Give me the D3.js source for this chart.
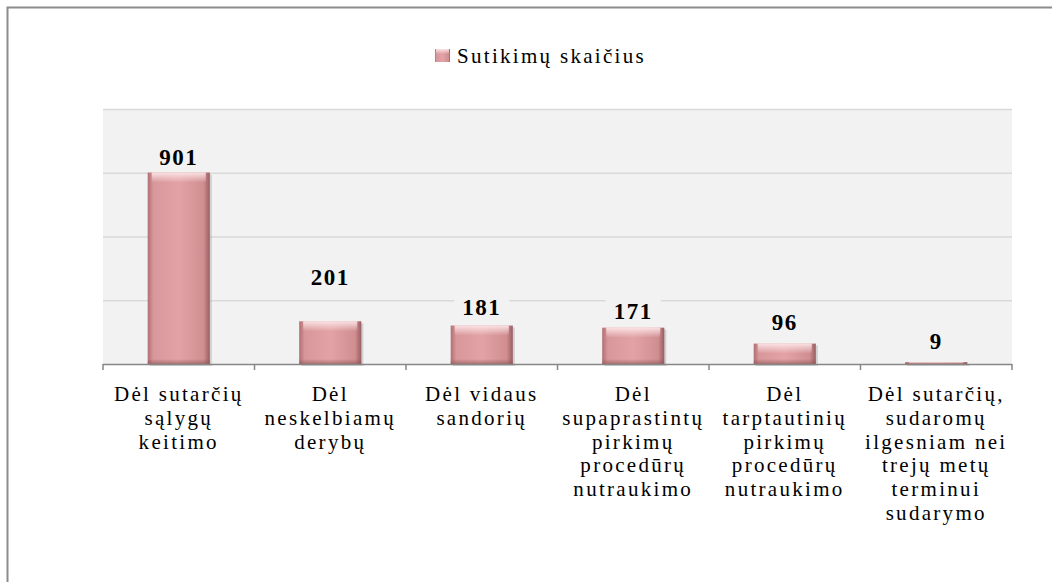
<!DOCTYPE html>
<html>
<head>
<meta charset="utf-8">
<script src="https://d3js.org/d3.v7.min.js"></script>
<style>
  body { margin: 0; background: #fff; }
  text { font-family: "Liberation Serif", "Times New Roman", serif; }
</style>
</head>
<body>
<div id="chart"></div>
<script>
// data
var categories = ["c1", "c2", "c3", "c4", "c5", "c6"];
var labelLines = [
  ["Dėl sutarčių", "sąlygų", "keitimo"],
  ["Dėl", "neskelbiamų", "derybų"],
  ["Dėl vidaus", "sandorių"],
  ["Dėl", "supaprastintų", "pirkimų", "procedūrų", "nutraukimo"],
  ["Dėl", "tarptautinių", "pirkimų", "procedūrų", "nutraukimo"],
  ["Dėl sutarčių,", "sudaromų", "ilgesniam nei", "trejų metų", "terminui", "sudarymo"]
];
var values = [901, 201, 181, 171, 96, 9];
var gridTicks = [0, 300, 600, 900, 1200];
var seriesName = "Sutikimų skaičius";

// the value labels were nudged by hand in the original, px above bar top
var labelGap = [8, 36, 11, 9, 14, 13];

var W = 1052, H = 582;
var plot = {left: 103, right: 1012, top: 109, bottom: 364};

var svg = d3.select("#chart").append("svg")
  .attr("width", W).attr("height", H);

var defs = svg.append("defs");
var g1 = defs.append("linearGradient").attr("id", "barH")
  .attr("x1", "0").attr("x2", "1").attr("y1", "0").attr("y2", "0");
g1.append("stop").attr("offset", "0%").attr("stop-color", "#b07073");
g1.append("stop").attr("offset", "9%").attr("stop-color", "#d8979a");
g1.append("stop").attr("offset", "50%").attr("stop-color", "#e3a3a6");
g1.append("stop").attr("offset", "90%").attr("stop-color", "#d08e91");
g1.append("stop").attr("offset", "100%").attr("stop-color", "#985e61");
var g2 = defs.append("linearGradient").attr("id", "barTop")
  .attr("x1", "0").attr("x2", "0").attr("y1", "0").attr("y2", "1");
g2.append("stop").attr("offset", "0%").attr("stop-color", "#fce6e7").attr("stop-opacity", 0.95);
g2.append("stop").attr("offset", "100%").attr("stop-color", "#fce6e7").attr("stop-opacity", 0);
var g3 = defs.append("linearGradient").attr("id", "barBot")
  .attr("x1", "0").attr("x2", "0").attr("y1", "0").attr("y2", "1");
g3.append("stop").attr("offset", "0%").attr("stop-color", "#8a5052").attr("stop-opacity", 0);
g3.append("stop").attr("offset", "100%").attr("stop-color", "#8a5052").attr("stop-opacity", 0.6);

// outer frame
svg.append("rect")
  .attr("x", 7.5).attr("y", 7.5).attr("width", W).attr("height", H)
  .attr("fill", "#fff").attr("stroke", "#8c8c8c").attr("stroke-width", 2);

var x = d3.scaleBand().domain(categories)
  .range([plot.left, plot.right]).paddingInner(0.59).paddingOuter(0.295);
var y = d3.scaleLinear().domain([0, 1200]).range([plot.bottom, plot.top]);

// plot area
svg.append("rect")
  .attr("x", plot.left).attr("y", plot.top)
  .attr("width", plot.right - plot.left).attr("height", plot.bottom - plot.top)
  .attr("fill", "#f2f2f2");

svg.append("g").selectAll("line").data(gridTicks.slice(1)).join("line")
  .attr("x1", plot.left).attr("x2", plot.right)
  .attr("y1", d => y(d) + 0.5).attr("y2", d => y(d) + 0.5)
  .attr("stroke", "#d9d9d9").attr("stroke-width", 1.5);

// bars
var bars = svg.append("g").selectAll("g").data(values).join("g");
bars.append("rect")
  .attr("x", (d, i) => x(categories[i]) + 2).attr("y", d => y(d) + 2)
  .attr("width", x.bandwidth()).attr("height", d => y(0) - y(d))
  .attr("fill", "#b0b0b0").attr("opacity", 0.5);
bars.append("rect")
  .attr("x", (d, i) => x(categories[i])).attr("y", d => y(d))
  .attr("width", x.bandwidth()).attr("height", d => y(0) - y(d))
  .attr("fill", "url(#barH)");
bars.append("rect")
  .attr("x", (d, i) => x(categories[i]) + 4).attr("y", d => y(d))
  .attr("width", x.bandwidth() - 8).attr("height", d => Math.min(10, y(0) - y(d)))
  .attr("fill", "url(#barTop)");
bars.append("rect")
  .attr("x", (d, i) => x(categories[i])).attr("y", d => Math.max(y(d), y(0) - 5))
  .attr("width", x.bandwidth()).attr("height", d => Math.min(5, y(0) - y(d)))
  .attr("fill", "url(#barBot)");

// value labels, with a plot-coloured box behind them
var vl = svg.append("g").selectAll("g").data(values).join("g");
vl.append("rect").attr("fill", "#f2f2f2");
vl.append("text")
  .attr("x", (d, i) => x(categories[i]) + x.bandwidth() / 2)
  .attr("y", (d, i) => y(d) - labelGap[i])
  .attr("text-anchor", "middle")
  .attr("font-size", 23).attr("font-weight", "bold")
  .attr("letter-spacing", 1.5)
  .attr("fill", "#000")
  .text(d => d);
vl.each(function() {
  var b = d3.select(this).select("text").node().getBBox();
  d3.select(this).select("rect")
    .attr("x", b.x - 8).attr("y", b.y).attr("width", b.width + 16).attr("height", b.height);
});

// x axis
var step = x.step();
var axis = svg.append("g");
axis.append("line")
  .attr("x1", plot.left).attr("x2", plot.right)
  .attr("y1", plot.bottom + 0.5).attr("y2", plot.bottom + 0.5)
  .attr("stroke", "#868686").attr("stroke-width", 1.5);
axis.selectAll("line.tick").data(d3.range(categories.length + 1)).join("line")
  .attr("class", "tick")
  .attr("x1", i => plot.left + i * step).attr("x2", i => plot.left + i * step)
  .attr("y1", plot.bottom).attr("y2", plot.bottom + 6)
  .attr("stroke", "#868686").attr("stroke-width", 1.5);

var labels = axis.selectAll("text.cat").data(labelLines).join("text")
  .attr("class", "cat")
  .attr("text-anchor", "middle")
  .attr("font-size", 21).attr("letter-spacing", 2.3)
  .attr("fill", "#000");
labels.each(function(lines, i) {
  var cx = x(categories[i]) + x.bandwidth() / 2;
  d3.select(this).selectAll("tspan").data(lines).join("tspan")
    .attr("x", cx)
    .attr("y", (d, j) => 401 + j * 23.8)
    .text(d => d);
});

// legend
var legend = svg.append("g");
legend.append("rect")
  .attr("x", 435).attr("y", 49).attr("width", 15).attr("height", 13)
  .attr("fill", "url(#barH)");
legend.append("rect")
  .attr("x", 436).attr("y", 49).attr("width", 13).attr("height", 5)
  .attr("fill", "url(#barTop)");
legend.append("text")
  .attr("x", 457).attr("y", 63)
  .attr("font-size", 21).attr("letter-spacing", 2.3)
  .attr("fill", "#000")
  .text(seriesName);
</script>
</body>
</html>
